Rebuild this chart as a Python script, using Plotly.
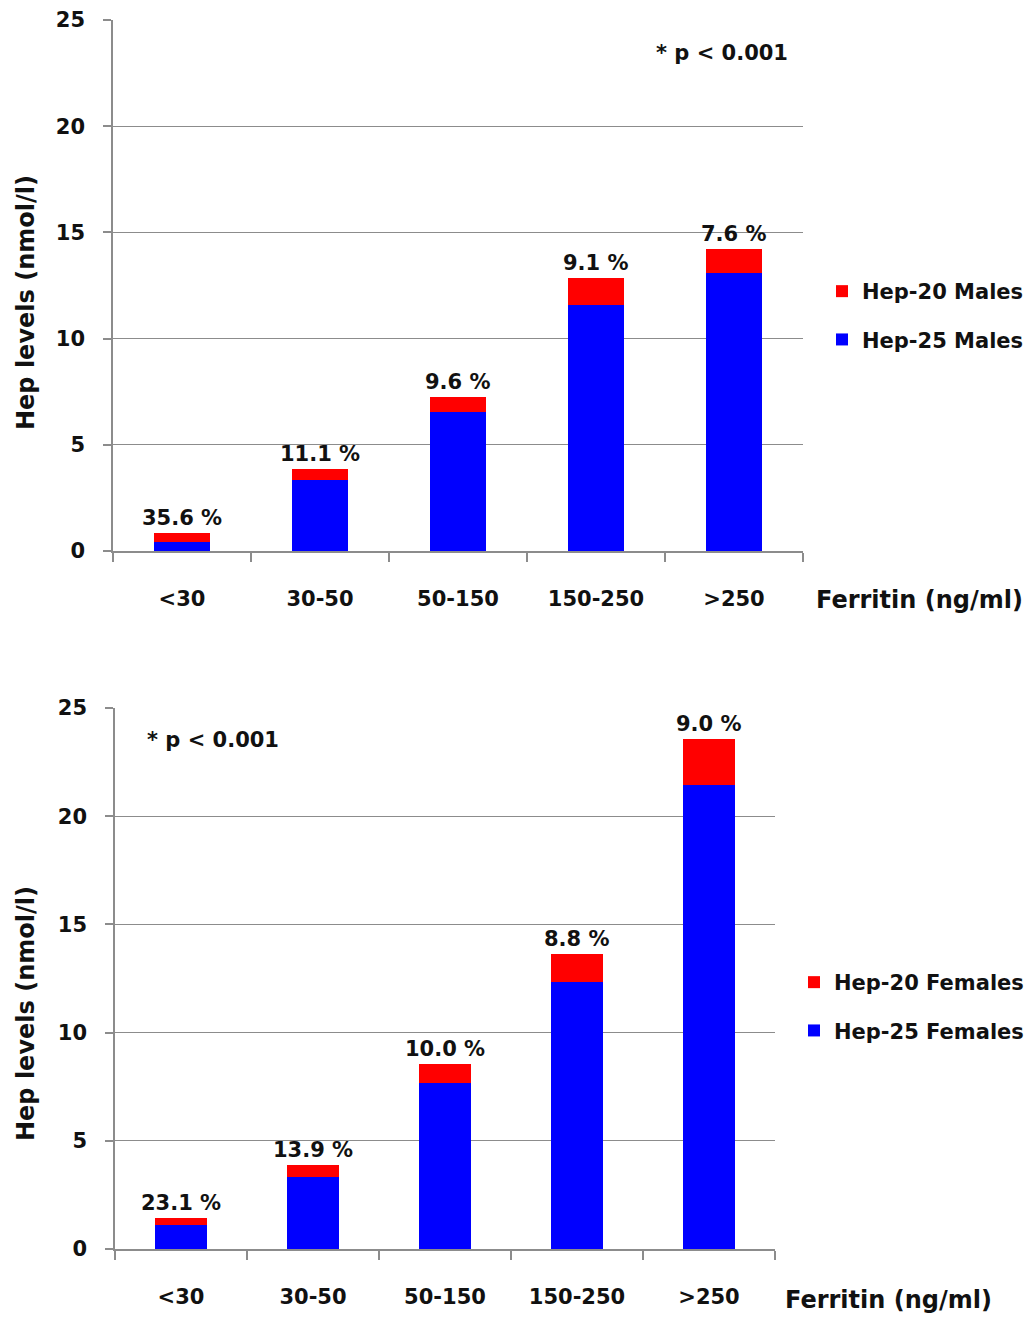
import plotly.graph_objects as go

categories = ["<30", "30-50", "50-150", "150-250", ">250"]

males_hep25 = [0.42, 3.35, 6.56, 11.60, 13.07]
males_hep20 = [0.44, 0.49, 0.71, 1.23, 1.14]
males_pct = ["35.6 %", "11.1 %", "9.6 %", "9.1 %", "7.6 %"]

females_hep25 = [1.09, 3.31, 7.67, 12.34, 21.42]
females_hep20 = [0.34, 0.59, 0.88, 1.29, 2.16]
females_pct = ["23.1 %", "13.9 %", "10.0 %", "8.8 %", "9.0 %"]

y_ticks = [0, 5, 10, 15, 20, 25]

PAGE_W, PAGE_H = 1036, 1317
OFF = 8  # page body margin
W, H = PAGE_W - OFF, PAGE_H - OFF
FONT = "DejaVu Sans"
FS = 21
BLUE = "#0000FF"
RED = "#FF0000"
GRID = "#8c8c8c"
TXT = "#111111"

fig = go.Figure()

fig.add_trace(go.Bar(x=categories, y=males_hep25, name="Hep-25 Males", marker_color=BLUE,
                     width=0.4, xaxis="x", yaxis="y", legend="legend", legendgroup="m25", legendrank=2))
fig.add_trace(go.Bar(x=categories, y=males_hep20, name="Hep-20 Males", marker_color=RED,
                     width=0.4, xaxis="x", yaxis="y", legend="legend", legendgroup="m20", legendrank=1))
fig.add_trace(go.Bar(x=categories, y=females_hep25, name="Hep-25 Females", marker_color=BLUE,
                     width=0.4, xaxis="x2", yaxis="y2", legend="legend2", legendgroup="f25", legendrank=2))
fig.add_trace(go.Bar(x=categories, y=females_hep20, name="Hep-20 Females", marker_color=RED,
                     width=0.4, xaxis="x2", yaxis="y2", legend="legend2", legendgroup="f20", legendrank=1))

fig.update_traces(marker_line_width=0)

def px_x(p):
    return (p - OFF) / W

def px_y(p):
    return 1 - (p - OFF) / H

axis_font = dict(family=FONT, size=FS, color=TXT, weight="bold")

common_x = dict(type="category", showgrid=False, showline=True, linecolor=GRID, linewidth=1.5,
                ticks="outside", ticklen=9, tickcolor=GRID, tickwidth=1.5, tickson="boundaries",
                tickfont=axis_font, ticklabelstandoff=28, categoryorder="array",
                categoryarray=categories, automargin=False)
common_y = dict(range=[0, 25], tickvals=y_ticks, showgrid=True, gridcolor=GRID, gridwidth=1.3,
                showline=True, linecolor=GRID, linewidth=1.5, ticks="outside", ticklen=8,
                tickcolor=GRID, tickwidth=1.5, tickfont=axis_font, ticklabelstandoff=14,
                zeroline=False, automargin=False)

legend_font = dict(family=FONT, size=FS, color=TXT, weight="bold")

fig.update_layout(
    width=W, height=H,
    margin=dict(l=0, r=0, t=0, b=0, autoexpand=False),
    paper_bgcolor="white", plot_bgcolor="white",
    barmode="stack",
    xaxis=dict(common_x, domain=[px_x(113), px_x(803)], anchor="y"),
    yaxis=dict(common_y, domain=[px_y(551), px_y(20)], anchor="x"),
    xaxis2=dict(common_x, domain=[px_x(115), px_x(775)], anchor="y2"),
    yaxis2=dict(common_y, domain=[px_y(1249), px_y(708)], anchor="x2"),
    legend=dict(x=px_x(822), y=px_y(271), xanchor="left", yanchor="top",
                traceorder="grouped", tracegroupgap=18, font=legend_font,
                bgcolor="rgba(0,0,0,0)", itemwidth=30),
    legend2=dict(x=px_x(794), y=px_y(962), xanchor="left", yanchor="top",
                 traceorder="grouped", tracegroupgap=18, font=legend_font,
                 bgcolor="rgba(0,0,0,0)", itemwidth=30),
    showlegend=True,
)

annots = []
for cat, b, r, t in zip(categories, males_hep25, males_hep20, males_pct):
    annots.append(dict(x=cat, y=b + r, xref="x", yref="y", text=t, showarrow=False,
                       yanchor="bottom", yshift=1, font=axis_font))
for cat, b, r, t in zip(categories, females_hep25, females_hep20, females_pct):
    annots.append(dict(x=cat, y=b + r, xref="x2", yref="y2", text=t, showarrow=False,
                       yanchor="bottom", yshift=1, font=axis_font))

title_font = dict(family=FONT, size=24, color=TXT, weight="bold")
p_font = dict(family=FONT, size=21, color=TXT, weight="bold")
annots += [
    dict(x=px_x(722), y=px_y(53), xref="paper", yref="paper", text="* p < 0.001", showarrow=False,
         xanchor="center", yanchor="middle", font=p_font),
    dict(x=px_x(213), y=px_y(740), xref="paper", yref="paper", text="* p < 0.001", showarrow=False,
         xanchor="center", yanchor="middle", font=p_font),
    dict(x=px_x(919), y=px_y(600), xref="paper", yref="paper", text="Ferritin (ng/ml)", showarrow=False,
         xanchor="center", yanchor="middle", font=title_font),
    dict(x=px_x(888), y=px_y(1300), xref="paper", yref="paper", text="Ferritin (ng/ml)", showarrow=False,
         xanchor="center", yanchor="middle", font=title_font),
    dict(x=px_x(26), y=px_y(303), xref="paper", yref="paper", text="Hep levels (nmol/l)", showarrow=False,
         textangle=-90, xanchor="center", yanchor="middle", font=title_font),
    dict(x=px_x(26), y=px_y(1014), xref="paper", yref="paper", text="Hep levels (nmol/l)", showarrow=False,
         textangle=-90, xanchor="center", yanchor="middle", font=title_font),
]
fig.update_layout(annotations=annots)

fig.write_html("out.html")
